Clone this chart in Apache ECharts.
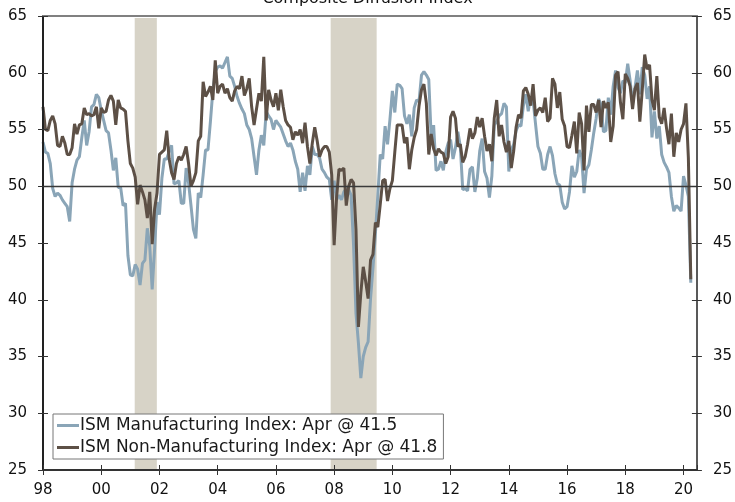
<!DOCTYPE html>
<html>
<head>
<meta charset="utf-8">
<script src="https://cdn.jsdelivr.net/npm/echarts@6/dist/echarts.min.js"></script>
<style>
html,body{margin:0;padding:0;background:#fff;}
#chart{width:735px;height:502px;}
</style>
</head>
<body>
<div id="chart"></div>
<script>
// Monthly data, Jan 1998 - Apr 2020
const startYear = 1998;
const manufacturing = [
53.9,53.0,52.9,52.0,49.8,49.1,49.4,49.2,48.8,48.5,48.2,46.9,
50.3,51.5,52.3,52.6,54.3,55.8,53.6,54.8,57.0,57.2,58.1,57.8,
56.7,55.8,54.9,54.7,53.2,51.4,52.5,49.9,49.9,48.3,48.5,43.9,
42.2,42.1,43.1,42.7,41.3,43.2,43.5,46.3,44.7,40.9,44.5,48.6,
47.5,50.7,52.4,52.4,53.1,53.6,50.2,50.3,50.5,48.5,48.5,51.6,
50.3,48.3,46.2,45.4,49.4,49.0,51.0,53.2,53.2,55.7,58.4,60.1,
60.5,60.6,60.4,60.9,61.4,59.7,59.5,58.8,57.9,57.3,56.8,56.4,
55.4,55.0,54.2,52.6,51.0,53.2,54.5,53.6,56.6,56.2,55.9,55.0,
55.8,55.5,55.2,54.6,54.0,53.5,53.8,53.2,52.2,51.5,49.5,51.2,
49.6,51.8,51.0,53.5,52.8,52.8,52.5,51.5,51.2,50.8,50.6,48.8,
50.5,48.8,49.2,48.8,49.5,49.8,49.7,49.2,44.8,38.8,36.2,33.1,
35.0,35.8,36.3,40.1,42.8,45.8,49.2,52.8,52.4,55.3,53.7,55.9,
58.4,56.5,59.0,58.9,58.6,56.2,55.5,56.3,54.4,56.9,57.6,57.5,
59.8,60.1,59.8,59.4,54.3,55.4,51.4,51.5,52.2,51.4,53.0,53.8,
54.1,52.4,53.4,54.8,53.5,49.7,49.8,49.6,51.5,51.7,49.5,50.7,
53.1,54.2,51.3,50.7,49.0,50.9,55.4,55.7,56.2,56.4,57.3,57.0,
51.3,53.2,53.7,54.9,55.4,55.3,57.1,58.1,56.6,57.9,57.6,55.5,
53.5,52.9,51.5,51.5,52.8,53.5,52.7,51.1,50.2,50.1,48.6,48.0,
48.2,49.5,51.8,50.8,51.3,53.2,52.6,49.4,51.5,51.9,53.2,54.7,
56.0,57.7,57.2,54.8,54.9,57.8,56.3,58.8,60.2,58.7,58.2,59.3,
59.1,60.8,59.3,57.3,58.7,60.2,58.1,60.5,59.8,57.7,58.8,54.3,
56.6,54.2,55.3,52.8,52.1,51.7,51.2,49.1,47.8,48.3,48.1,47.8,
50.9,50.1,49.1,41.5
];
const nonManufacturing = [
57.0,55.0,54.9,55.8,56.2,55.5,53.6,53.5,54.4,53.8,52.8,52.8,
53.4,55.5,54.6,55.4,55.5,56.9,56.3,56.4,56.2,56.3,57.0,55.1,
56.9,56.5,56.6,57.6,58.0,57.5,55.4,57.6,56.9,56.8,56.6,54.0,
52.0,51.6,50.8,48.4,50.1,49.5,48.8,47.2,49.5,44.9,48.0,49.4,
52.8,53.0,53.2,54.9,52.4,51.2,50.6,52.0,52.6,52.3,52.8,53.5,
52.0,50.0,50.5,51.2,54.0,54.4,59.2,57.9,58.3,58.8,57.6,61.1,
58.2,58.8,59.0,58.2,58.6,57.8,57.5,58.4,58.8,58.6,59.7,58.0,
58.6,59.5,57.0,55.4,56.8,58.2,57.5,61.4,55.8,58.5,57.6,57.0,
58.2,56.7,58.5,57.0,55.8,55.4,55.2,54.1,54.8,54.5,55.0,53.8,
55.6,53.5,52.0,53.8,55.2,54.0,52.6,53.2,53.5,53.5,53.0,51.0,
44.8,49.0,51.5,51.4,51.6,48.3,50.0,50.6,50.3,46.2,37.6,40.6,
42.9,41.6,40.1,43.5,44.0,46.8,46.4,48.4,50.5,50.6,48.7,49.8,
50.5,53.0,55.4,55.4,55.4,53.8,54.3,51.5,53.2,54.3,55.0,57.1,
58.5,59.0,57.3,52.8,54.6,53.3,52.7,53.3,53.0,52.9,52.0,52.6,
56.1,56.6,56.0,53.5,53.7,52.1,52.6,53.7,55.1,54.2,54.7,56.1,
55.2,56.0,54.4,53.1,53.7,52.2,56.0,57.6,54.4,55.4,53.9,53.0,
54.0,51.6,53.1,55.2,56.3,56.0,58.4,58.7,58.1,57.1,59.0,56.2,
56.7,56.9,56.5,57.8,55.7,56.0,59.5,59.0,56.9,58.3,55.9,55.3,
53.5,53.4,54.5,55.7,52.9,56.5,55.5,51.4,57.1,54.8,57.2,57.2,
56.5,57.6,55.2,57.5,56.9,57.4,53.9,55.3,59.8,60.1,57.4,55.9,
59.9,59.5,58.8,56.8,58.6,59.1,55.7,58.5,61.6,60.3,60.7,57.6,
56.7,59.7,56.1,55.5,56.9,55.1,53.7,56.4,52.6,54.7,53.9,55.0,
55.5,57.3,52.5,41.8
];
const seriesNames = ['ISM Manufacturing Index: Apr @ 41.5', 'ISM Non-Manufacturing Index: Apr @ 41.8'];
const recessionStart = [2001.15, 2007.88];
const recessionEnd = [2001.91, 2009.46];
const chartTitle = 'Composite Diffusion Index';
const yTicks = [25, 30, 35, 40, 45, 50, 55, 60, 65];
const xLabelYears = [1998, 2000, 2002, 2004, 2006, 2008, 2010, 2012, 2014, 2016, 2018, 2020];

const toPairs = arr => arr.map((v, i) => [startYear + i / 12, v]);
const FONT = 'DejaVu Sans';

const chart = echarts.init(document.getElementById('chart'), null, {renderer: 'canvas'});

const yBase = {
  type: 'value', min: yTicks[0], max: yTicks[yTicks.length - 1], interval: 5,
  splitLine: {show: false}, z: 10
};
const xBase = {
  type: 'value', min: 1998, max: 2020.46, interval: 2,
  splitLine: {show: false}, z: 10
};

chart.setOption({
  animation: false,
  backgroundColor: '#ffffff',
  grid: {left: 43, right: 38, top: 16, bottom: 32, containLabel: false},
  graphic: [{
    type: 'text', left: 'center', top: -9,
    style: {text: chartTitle, font: '16px "DejaVu Sans"', fill: '#111'}
  }],
  legend: {
    data: seriesNames,
    orient: 'vertical', left: 53, top: 414, z: 20,
    padding: [2, 6, 2, 4], itemGap: 3,
    itemWidth: 22, itemHeight: 3, icon: 'rect',
    backgroundColor: '#ffffff', borderColor: '#777', borderWidth: 1,
    textStyle: {fontFamily: FONT, fontSize: 17, color: '#1a1a1a', lineHeight: 19, padding: [0, 0, 0, -4]}
  },
  xAxis: [
    Object.assign({}, xBase, {
      position: 'bottom',
      axisLine: {show: true, lineStyle: {color: '#333', width: 2}},
      axisTick: {show: true, inside: false, length: 5, lineStyle: {color: '#333', width: 1}},
      axisLabel: {
        show: true, margin: 13, showMaxLabel: false,
        fontFamily: FONT, fontSize: 15, color: '#111',
        formatter: v => xLabelYears.indexOf(Math.round(v)) >= 0 && Math.abs(v - Math.round(v)) < 1e-6 ? String(Math.round(v)).slice(2) : ''
      }
    }),
    Object.assign({}, xBase, {
      position: 'bottom',
      axisLine: {show: false},
      axisTick: {show: true, inside: true, length: 5, lineStyle: {color: '#333', width: 1}},
      axisLabel: {show: false}
    }),
    Object.assign({}, xBase, {
      position: 'top',
      axisLine: {show: true, lineStyle: {color: '#808080', width: 2}},
      axisTick: {show: false},
      axisLabel: {show: false}
    })
  ],
  yAxis: [
    Object.assign({}, yBase, {
      position: 'left',
      axisLine: {show: true, lineStyle: {color: '#222', width: 2}},
      axisTick: {show: true, inside: false, length: 5, lineStyle: {color: '#333'}},
      axisLabel: {margin: 16, fontFamily: FONT, fontSize: 15, color: '#111'}
    }),
    Object.assign({}, yBase, {
      position: 'right',
      axisLine: {show: true, lineStyle: {color: '#222', width: 1.5}},
      axisTick: {show: true, inside: false, length: 5, lineStyle: {color: '#333'}},
      axisLabel: {margin: 16, fontFamily: FONT, fontSize: 15, color: '#111'}
    }),
    Object.assign({}, yBase, {
      position: 'left',
      axisLine: {show: false},
      axisTick: {show: true, inside: true, length: 5, lineStyle: {color: '#333'}},
      axisLabel: {show: false}
    }),
    Object.assign({}, yBase, {
      position: 'right',
      axisLine: {show: false},
      axisTick: {show: true, inside: true, length: 5, lineStyle: {color: '#333'}},
      axisLabel: {show: false}
    })
  ],
  series: [
    {
      name: 'recessions', type: 'line', data: [], xAxisIndex: 0, yAxisIndex: 0,
      silent: true, z: 1,
      markArea: {
        silent: true,
        itemStyle: {color: '#D7D3C7'},
        data: recessionStart.map((s, i) => [{xAxis: s, yAxis: 25}, {xAxis: recessionEnd[i], yAxis: 64.82}])
      },
      markLine: {
        silent: true, symbol: 'none', label: {show: false},
        lineStyle: {color: '#3a3a3a', width: 1.3, type: 'solid'},
        data: [{yAxis: 50}]
      }
    },
    {
      name: seriesNames[0], type: 'line', xAxisIndex: 0, yAxisIndex: 0,
      data: toPairs(manufacturing),
      showSymbol: false, symbol: 'none', z: 3,
      lineStyle: {color: '#8AA5B7', width: 3},
      itemStyle: {color: '#8AA5B7'}
    },
    {
      name: seriesNames[1], type: 'line', xAxisIndex: 0, yAxisIndex: 0,
      data: toPairs(nonManufacturing),
      showSymbol: false, symbol: 'none', z: 4,
      lineStyle: {color: '#5D5046', width: 3},
      itemStyle: {color: '#5D5046'}
    }
  ]
});
</script>
</body>
</html>
